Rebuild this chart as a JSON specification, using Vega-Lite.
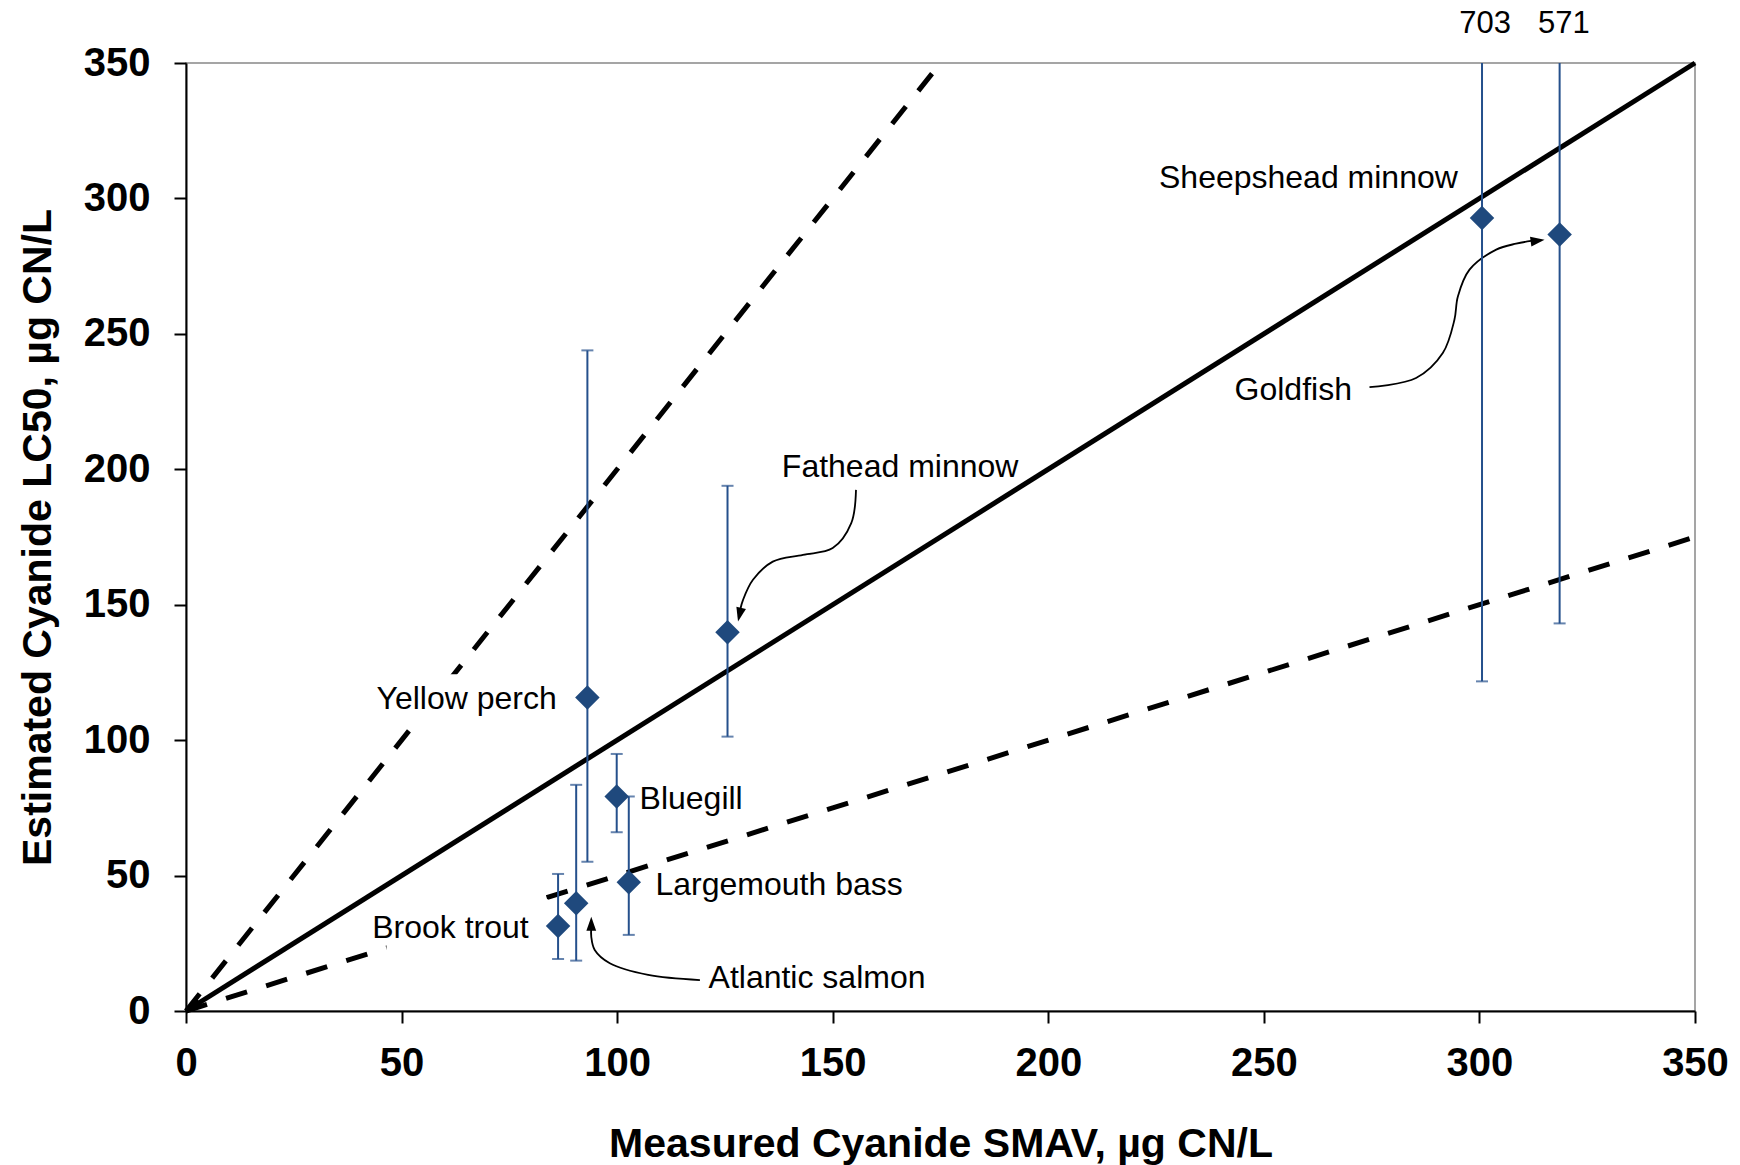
{
  "$schema": "https://vega.github.io/schema/vega-lite/v6.json",
  "width": 1509,
  "height": 948,
  "autosize": {"type": "none"},
  "padding": {"left": 186, "top": 63, "right": 45, "bottom": 154},
  "background": "white",
  "config": {
    "font": "Liberation Sans",
    "view": {"stroke": "#888888", "strokeWidth": 1.5},
    "axis": {
      "grid": false,
      "domainColor": "black",
      "domainWidth": 2,
      "tickColor": "black",
      "tickWidth": 2,
      "tickSize": 12,
      "labelFont": "Liberation Sans",
      "labelFontWeight": "bold",
      "labelFontSize": 40,
      "labelColor": "black",
      "labelFlush": false,
      "labelOverlap": false,
      "titleFont": "Liberation Sans",
      "titleFontWeight": "bold",
      "titleFontSize": 41,
      "titleColor": "black"
    }
  },
  "datasets": {
    "solid": [
      {"line": "1:1", "x": 0, "y": 0},
      {"line": "1:1", "x": 350, "y": 350}
    ],
    "dashed": [
      {"line": "2:1", "x": 0, "y": 0},
      {"line": "2:1", "x": 175, "y": 350},
      {"line": "1:2", "x": 0, "y": 0},
      {"line": "1:2", "x": 350, "y": 175}
    ],
    "boxes": [
      {"label": "Yellow perch", "x": 44, "x2": 87, "y": 107.5, "y2": 124.3},
      {"label": "Brook trout", "x": 46.5, "x2": 84, "y": 21, "y2": 41.3}
    ],
    "species": [
      {"species": "Brook trout", "x": 86.3, "y": 31.4, "lo": 19.2, "hi": 50.6},
      {"species": "Atlantic salmon", "x": 90.5, "y": 39.8, "lo": 18.6, "hi": 83.5},
      {"species": "Yellow perch", "x": 93.1, "y": 115.7, "lo": 55.1, "hi": 243.9},
      {"species": "Bluegill", "x": 99.9, "y": 79.2, "lo": 66.0, "hi": 94.9},
      {"species": "Largemouth bass", "x": 102.7, "y": 47.5, "lo": 28.1, "hi": 79.2},
      {"species": "Fathead minnow", "x": 125.6, "y": 139.8, "lo": 101.3, "hi": 193.9},
      {"species": "Sheepshead minnow", "x": 300.6, "y": 292.8, "lo": 121.7, "hi": 703},
      {"species": "Goldfish", "x": 318.6, "y": 286.7, "lo": 143.1, "hi": 571}
    ],
    "curves": [
      {"arrow": "salmon", "i": 1, "x": 119.2, "y": 11.4},
      {"arrow": "salmon", "i": 2, "x": 107.2, "y": 13.3},
      {"arrow": "salmon", "i": 3, "x": 98.3, "y": 17.6},
      {"arrow": "salmon", "i": 4, "x": 94.8, "y": 22.5},
      {"arrow": "salmon", "i": 5, "x": 94.0, "y": 27.4},
      {"arrow": "salmon", "i": 6, "x": 94.0, "y": 31.0},
      {"arrow": "fathead", "i": 1, "x": 155.4, "y": 192.4},
      {"arrow": "fathead", "i": 2, "x": 154.3, "y": 180.1},
      {"arrow": "fathead", "i": 3, "x": 150.0, "y": 170.9},
      {"arrow": "fathead", "i": 4, "x": 143.1, "y": 168.4},
      {"arrow": "fathead", "i": 5, "x": 136.1, "y": 165.9},
      {"arrow": "fathead", "i": 6, "x": 131.5, "y": 159.2},
      {"arrow": "fathead", "i": 7, "x": 129.2, "y": 151.8},
      {"arrow": "fathead", "i": 8, "x": 128.6, "y": 148.5},
      {"arrow": "goldfish", "i": 1, "x": 274.5, "y": 230.3},
      {"arrow": "goldfish", "i": 2, "x": 285.3, "y": 233.7},
      {"arrow": "goldfish", "i": 3, "x": 291.5, "y": 242.9},
      {"arrow": "goldfish", "i": 4, "x": 294.2, "y": 255.2},
      {"arrow": "goldfish", "i": 5, "x": 295.0, "y": 263.8},
      {"arrow": "goldfish", "i": 6, "x": 297.7, "y": 273.7},
      {"arrow": "goldfish", "i": 7, "x": 303.9, "y": 281.1},
      {"arrow": "goldfish", "i": 8, "x": 308.5, "y": 283.3},
      {"arrow": "goldfish", "i": 9, "x": 312.0, "y": 284.3}
    ],
    "labelsRight": [
      {"text": "Yellow perch", "x": 86, "y": 115.2},
      {"text": "Brook trout", "x": 79.5, "y": 30.8},
      {"text": "Sheepshead minnow", "x": 295.0, "y": 307.5}
    ],
    "labelsLeft": [
      {"text": "Bluegill", "x": 105.2, "y": 78.2},
      {"text": "Largemouth bass", "x": 108.9, "y": 46.7},
      {"text": "Atlantic salmon", "x": 121.2, "y": 12.2},
      {"text": "Fathead minnow", "x": 138.2, "y": 201.0},
      {"text": "Goldfish", "x": 243.2, "y": 229.3}
    ],
    "upperValues": [
      {"text": "703", "x": 301.3, "y": 364.5},
      {"text": "571", "x": 319.6, "y": 364.5}
    ]
  },
  "encoding": {
    "x": {
      "field": "x",
      "type": "quantitative",
      "scale": {"domain": [0, 350], "nice": false, "zero": true},
      "title": "Measured Cyanide SMAV, µg CN/L",
      "axis": {
        "values": [0, 50, 100, 150, 200, 250, 300, 350],
        "labelPadding": 20,
        "titleY": 145,
        "titleBaseline": "alphabetic"
      }
    },
    "y": {
      "field": "y",
      "type": "quantitative",
      "scale": {"domain": [0, 350], "nice": false, "zero": true},
      "title": "Estimated Cyanide LC50, µg CN/L",
      "axis": {
        "values": [0, 50, 100, 150, 200, 250, 300, 350],
        "labelPadding": 24,
        "titleX": -136,
        "titleY": 474,
        "titleAngle": -90,
        "titleBaseline": "alphabetic"
      }
    }
  },
  "layer": [
    {
      "data": {"name": "solid"},
      "mark": {"type": "line", "color": "black", "strokeWidth": 5},
      "encoding": {"detail": {"field": "line"}}
    },
    {
      "data": {"name": "dashed"},
      "mark": {"type": "line", "color": "black", "strokeWidth": 5, "strokeDash": [22, 20], "strokeCap": "butt"},
      "encoding": {"detail": {"field": "line"}}
    },
    {
      "data": {"name": "boxes"},
      "mark": {"type": "rect", "color": "white", "opacity": 1},
      "encoding": {"x2": {"field": "x2"}, "y2": {"field": "y2"}}
    },
    {
      "data": {"name": "curves"},
      "mark": {"type": "line", "color": "black", "strokeWidth": 1.8, "interpolate": "catmull-rom"},
      "encoding": {"detail": {"field": "arrow"}, "order": {"field": "i"}}
    },
    {
      "data": {"name": "species"},
      "mark": {"type": "rule", "color": "#25508C", "strokeWidth": 2, "clip": true},
      "encoding": {
        "y": {"field": "lo", "type": "quantitative", "scale": {"domain": [0, 350], "nice": false}, "title": "Estimated Cyanide LC50, µg CN/L"},
        "y2": {"field": "hi"}
      }
    },
    {
      "data": {"name": "species"},
      "mark": {"type": "tick", "orient": "horizontal", "color": "#25508C", "size": 12, "thickness": 2, "clip": true},
      "encoding": {
        "y": {"field": "lo", "type": "quantitative", "scale": {"domain": [0, 350], "nice": false}, "title": "Estimated Cyanide LC50, µg CN/L"}
      }
    },
    {
      "data": {"name": "species"},
      "mark": {"type": "tick", "orient": "horizontal", "color": "#25508C", "size": 12, "thickness": 2, "clip": true},
      "encoding": {
        "y": {"field": "hi", "type": "quantitative", "scale": {"domain": [0, 350], "nice": false}, "title": "Estimated Cyanide LC50, µg CN/L"}
      }
    },
    {
      "data": {"name": "species"},
      "mark": {"type": "point", "shape": "diamond", "filled": true, "size": 600, "color": "#1F497D", "opacity": 1},
      "encoding": {}
    },
    {
      "data": {"values": [{"x": 1.6, "y": 1.6}]},
      "mark": {"type": "point", "shape": "M0,-1L0.6,1L-0.6,1Z", "filled": true, "size": 256, "angle": 238, "color": "black", "opacity": 1},
      "encoding": {}
    },
    {
      "data": {"values": [{"x": 128.4, "y": 146.3}]},
      "mark": {"type": "point", "shape": "M0,-1L0.7,1L-0.7,1Z", "filled": true, "size": 196, "angle": 193, "color": "black", "opacity": 1},
      "encoding": {}
    },
    {
      "data": {"values": [{"x": 94.0, "y": 32.2}]},
      "mark": {"type": "point", "shape": "M0,-1L0.7,1L-0.7,1Z", "filled": true, "size": 196, "angle": 0, "color": "black", "opacity": 1},
      "encoding": {}
    },
    {
      "data": {"values": [{"x": 313.5, "y": 284.4}]},
      "mark": {"type": "point", "shape": "M0,-1L0.7,1L-0.7,1Z", "filled": true, "size": 196, "angle": 82, "color": "black", "opacity": 1},
      "encoding": {}
    },
    {
      "data": {"name": "labelsRight"},
      "mark": {"type": "text", "align": "right", "baseline": "middle", "fontSize": 32, "font": "Liberation Sans", "color": "black"},
      "encoding": {"text": {"field": "text"}}
    },
    {
      "data": {"name": "labelsLeft"},
      "mark": {"type": "text", "align": "left", "baseline": "middle", "fontSize": 32, "font": "Liberation Sans", "color": "black"},
      "encoding": {"text": {"field": "text"}}
    },
    {
      "data": {"name": "upperValues"},
      "mark": {"type": "text", "align": "center", "baseline": "middle", "fontSize": 31, "font": "Liberation Sans", "color": "black"},
      "encoding": {"text": {"field": "text"}}
    }
  ]
}
